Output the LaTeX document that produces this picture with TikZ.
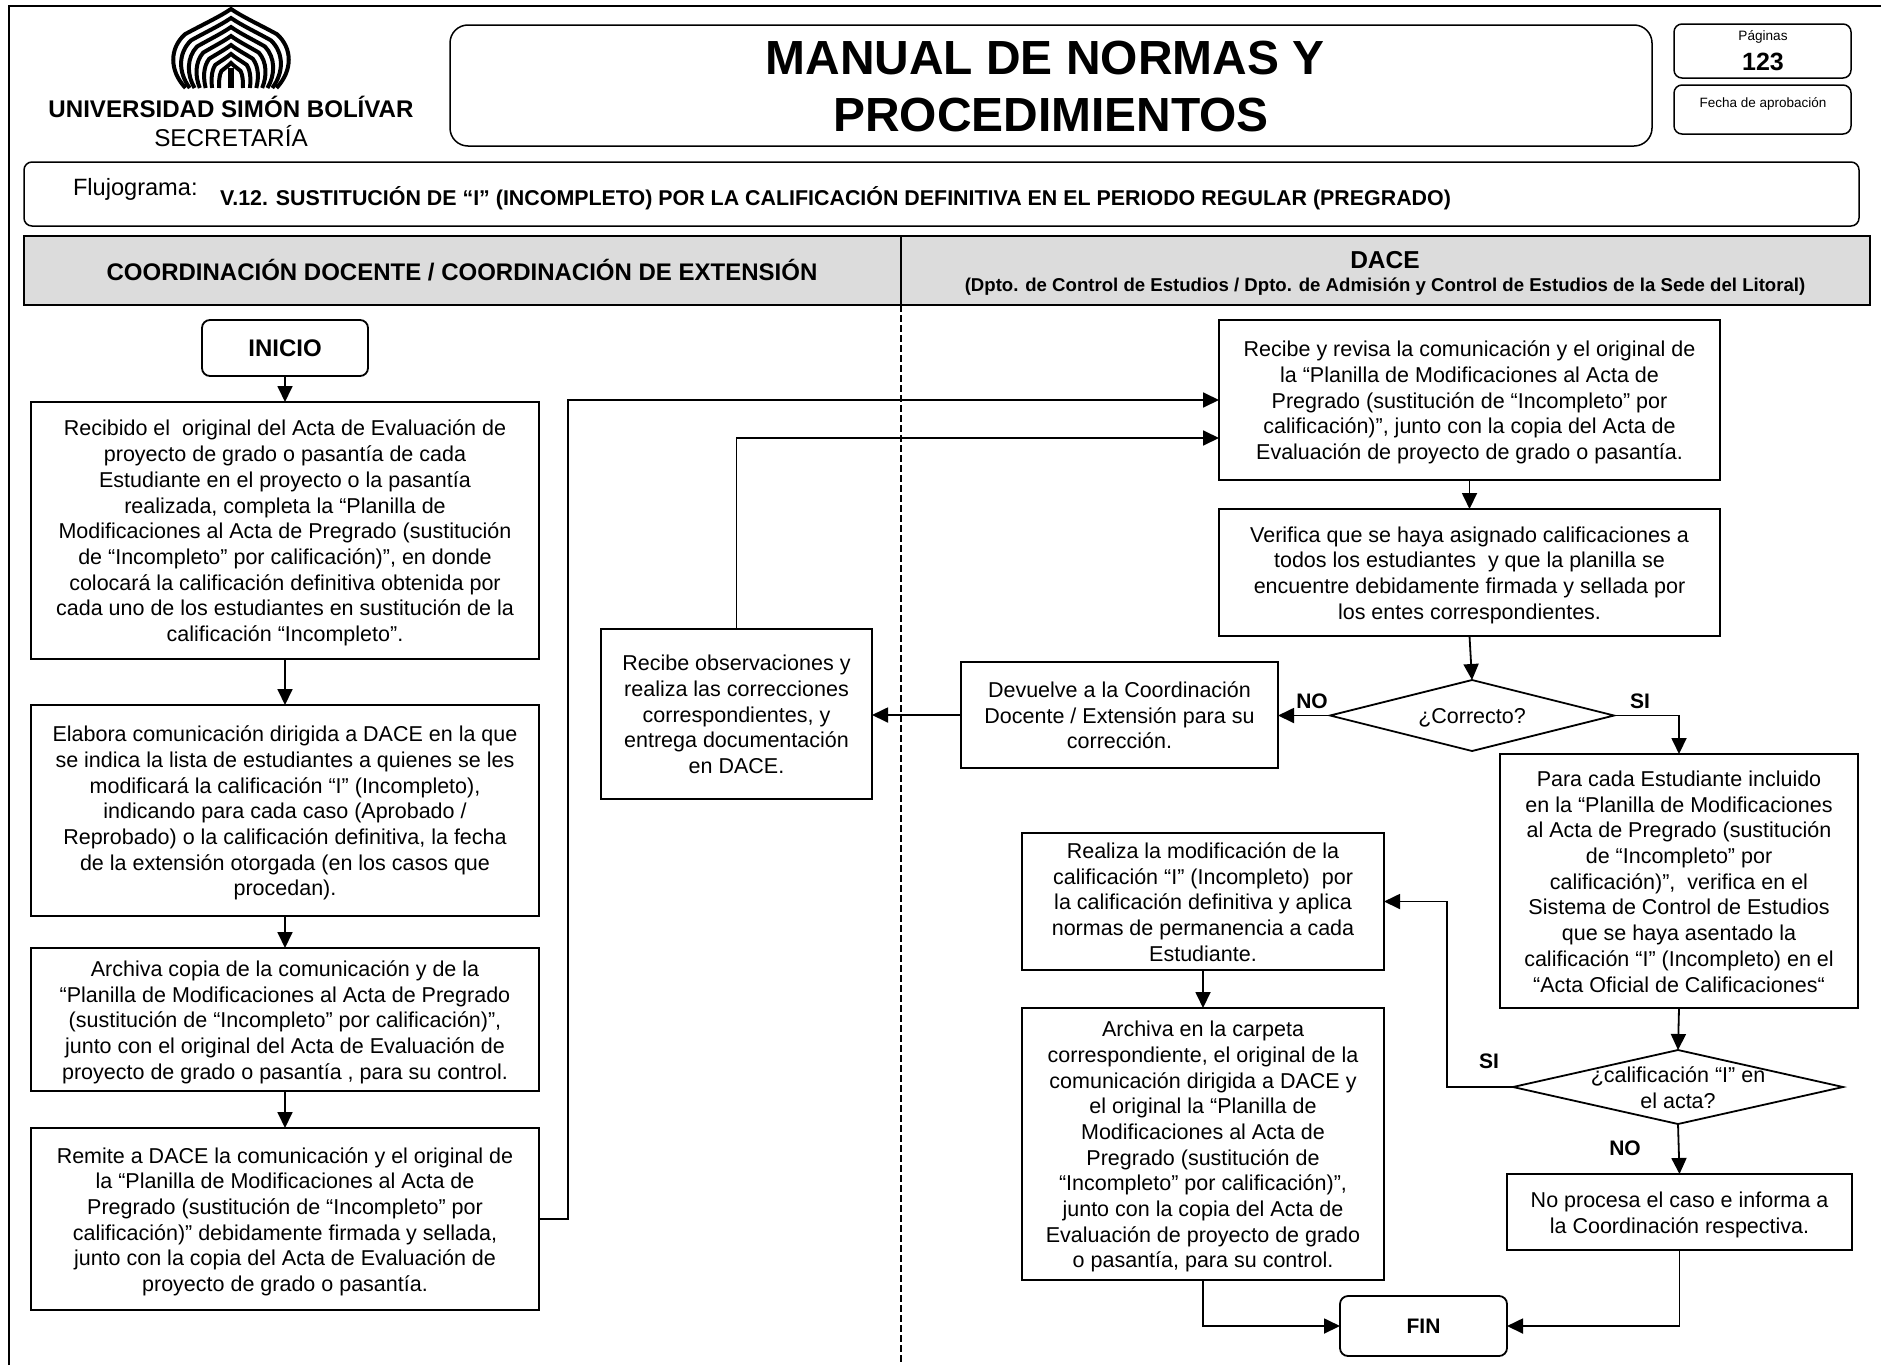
\documentclass[tikz,border=0pt]{standalone}
\usepackage{fontspec}
\setmainfont{Liberation Sans}
\usetikzlibrary{arrows.meta,shapes.geometric,calc}
\newcommand{\fs}[2]{\fontsize{#1}{#2}\selectfont}
\newcommand{\pbox}[7][proc]{\node[#1,minimum width={(#5-#3)*1pt},minimum height={(#6-#4)*1pt}] (#2) at ({(#3+#5)/2},{(#4+#6)/2}) {#7};}
\newcommand{\tbox}[6]{\pbox{#1}{#2}{#3}{#4}{#5}{\rule{0pt}{22.5pt}#6\rule[-6pt]{0pt}{6pt}}}
\tikzset{
  proc/.style={draw=black,line width=1.8pt,inner sep=0pt,outer sep=0pt,align=center,font=\fs{21.5}{25.7}},
  term/.style={proc,rounded corners=8pt,font=\bfseries\fs{24}{28}},
  frameb/.style={proc,rounded corners=8pt,line width=1.5pt},
  head/.style={proc,fill=headgray,line width=2.2pt},
  decis/.style={diamond,draw=black,line width=1.8pt,inner sep=0pt,outer sep=0pt},
  txt/.style={inner sep=0pt,outer sep=0pt,align=center},
  lab/.style={txt,font=\bfseries\fs{21}{25}},
  arr/.style={draw=black,line width=1.8pt,-{Triangle[length=16pt,width=15pt]}},
}
\definecolor{headgray}{HTML}{DCDCDC}
\begin{document}
\begin{tikzpicture}[x=1pt,y=-1pt]
\useasboundingbox (0,0) rectangle (1881,1365);
\fill[white] (0,0) rectangle (1881,1365);
% outer frame
\coordinate (fa) at (9,1365);
\coordinate (fb) at (9,6);
\coordinate (fc) at (1881,6);
\draw[line width=2.6pt] (fa) -- (fb) -- (fc);
% logo
\fill (228,68) rectangle (234,88);
\foreach \i in {0,...,6}{
  \pgfmathsetmacro{\w}{12+\i*7.6}
  \pgfmathsetmacro{\h}{25+\i*9}
  \pgfmathsetmacro{\f}{1-0.035*\i}
  \pgfmathsetmacro{\b}{1+0.012*\i}
  \draw[line width=4pt,line cap=butt,line join=miter]
    ({231-\f*\w},88) .. controls ({231-\b*\w},{88-0.22*\h}) and ({231-\b*\w},{88-0.50*\h}) .. ({231-0.80*\w},{88-0.68*\h})
    .. controls ({231-0.5*\w},{88-0.80*\h}) and ({231-0.2*\w},{88-0.90*\h}) .. (231,{88-\h})
    .. controls ({231+0.2*\w},{88-0.90*\h}) and ({231+0.5*\w},{88-0.80*\h}) .. ({231+0.80*\w},{88-0.68*\h})
    .. controls ({231+\b*\w},{88-0.50*\h}) and ({231+\b*\w},{88-0.22*\h}) .. ({231+\f*\w},88);
}
\node[txt,font=\bfseries\fs{24.1}{28}] (uni) at (231,107) {UNIVERSIDAD SIMÓN BOLÍVAR};
\node[txt,font=\fs{24.3}{28}] (sec) at (231,136) {SECRETARÍA};
% title boxes
\pbox[frameb,rounded corners=18pt]{title}{450}{25}{1652}{146}{}
\node[txt,font=\bfseries\fs{47.9}{57.6}] (titlet) at (1051,86.5) {MANUAL DE NORMAS Y\hspace*{12pt}\\PROCEDIMIENTOS};
\pbox[frameb]{pag}{1674}{24}{1851}{78}{}
\node[txt,font=\fs{13.6}{16}] (pagt) at (1763,37) {Páginas};
\node[txt,font=\bfseries\fs{25}{28}] (pagn) at (1763,62) {123};
\pbox[frameb]{fec}{1674}{85}{1851}{134}{}
\node[txt,font=\fs{13.5}{16}] (fect) at (1763,104) {Fecha de aprobación};
\pbox[frameb]{flu}{24}{162}{1859}{226}{}
\node[txt,anchor=west,font=\fs{23.6}{28}] (flut) at (73,189) {Flujograma:};
\node[txt,anchor=west,font=\bfseries\fs{21.4}{25}] (v12) at (220,198) {V.12. SUSTITUCIÓN DE “I” (INCOMPLETO) POR LA CALIFICACIÓN DEFINITIVA EN EL PERIODO REGULAR (PREGRADO)};
% header
\pbox[head]{hl}{24}{236}{901}{305}{}
\pbox[head]{hr}{901}{236}{1870}{305}{}
\node[txt,font=\bfseries\fs{24}{28}] (hlt) at (462,270) {COORDINACIÓN DOCENTE / COORDINACIÓN DE EXTENSIÓN};
\node[txt,font=\bfseries\fs{24.5}{29}] (hrt) at (1385,260.5) {DACE};
\node[txt,font=\bfseries\fs{18.6}{21}] (hrs) at (1385,286.5) {(Dpto. de Control de Estudios / Dpto. de Admisión y Control de Estudios de la Sede del Litoral)};
\coordinate (dashend) at (901,1365);
\draw[line width=1.4pt,dash pattern=on 7pt off 3pt] (hl.south east) -- (dashend);
% left column
\pbox[term]{ini}{202}{320}{368}{376}{INICIO}
\tbox{b1}{31}{402}{539}{659}{Recibido el\ \ original del Acta de Evaluación de\\proyecto de grado o pasantía de cada\\Estudiante en el proyecto o la pasantía\\realizada, completa la “Planilla de\\Modificaciones al Acta de Pregrado (sustitución\\de “Incompleto” por calificación)”, en donde\\colocará la calificación definitiva obtenida por\\cada uno de los estudiantes en sustitución de la\\calificación “Incompleto”.}
\tbox{b2}{31}{705}{539}{916}{Elabora comunicación dirigida a DACE en la que\\se indica la lista de estudiantes a quienes se les\\modificará la calificación “I” (Incompleto),\\indicando para cada caso (Aprobado /\\Reprobado) o la calificación definitiva, la fecha\\de la extensión otorgada (en los casos que\\procedan).}
\tbox{b3}{31}{948}{539}{1091}{Archiva copia de la comunicación y de la\\“Planilla de Modificaciones al Acta de Pregrado\\(sustitución de “Incompleto” por calificación)”,\\junto con el original del Acta de Evaluación de\\proyecto de grado o pasantía , para su control.}
\tbox{b4}{31}{1128}{539}{1310}{Remite a DACE la comunicación y el original de\\la “Planilla de Modificaciones al Acta de\\Pregrado (sustitución de “Incompleto” por\\calificación)” debidamente firmada y sellada,\\junto con la copia del Acta de Evaluación de\\proyecto de grado o pasantía.}
\tbox{b5}{601}{629}{872}{799}{Recibe observaciones y\\realiza las correcciones\\correspondientes, y\\entrega documentación\\en DACE.}
% right column
\tbox{rt}{1219}{320}{1720}{480}{Recibe y revisa la comunicación y el original de\\la “Planilla de Modificaciones al Acta de\\Pregrado (sustitución de “Incompleto” por\\calificación)”, junto con la copia del Acta de\\Evaluación de proyecto de grado o pasantía.}
\tbox{ve}{1219}{509}{1720}{636}{Verifica que se haya asignado calificaciones a\\todos los estudiantes\ \ y que la planilla se\\encuentre debidamente firmada y sellada por\\los entes correspondientes.}
\tbox{de}{961}{662}{1278}{768}{Devuelve a la Coordinación\\Docente / Extensión para su\\corrección.}
\node[decis,shape aspect=4,minimum width=284pt,minimum height=71pt] (d1) at (1472,715.5) {};
\node[txt,font=\fs{21.5}{25.7}] (d1t) at (1472,718) {¿Correcto?};
\tbox{pa}{1500}{754}{1858}{1008}{Para cada Estudiante incluido\\en la “Planilla de Modificaciones\\al Acta de Pregrado (sustitución\\de “Incompleto” por\\calificación)”,\ \ verifica en el\\Sistema de Control de Estudios\\que se haya asentado la\\calificación “I” (Incompleto) en el\\“Acta Oficial de Calificaciones“}
\tbox{re}{1022}{833}{1384}{970}{Realiza la modificación de la\\calificación “I” (Incompleto)\ \ por\\la calificación definitiva y aplica\\normas de permanencia a cada\\Estudiante.}
\tbox{ar}{1022}{1008}{1384}{1280}{Archiva en la carpeta\\correspondiente, el original de la\\comunicación dirigida a DACE y\\el original la “Planilla de\\Modificaciones al Acta de\\Pregrado (sustitución de\\“Incompleto” por calificación)”,\\junto con la copia del Acta de\\Evaluación de proyecto de grado\\o pasantía, para su control.}
\node[decis,shape aspect=4.46,minimum width=330pt,minimum height=74pt] (d2) at (1678,1087) {};
\node[txt,font=\fs{21.5}{25.7}] (d2t) at (1678,1088) {¿calificación “I” en\\el acta?};
\tbox{np}{1507}{1174}{1852}{1250}{No procesa el caso e informa a\\la Coordinación respectiva.}
\pbox[term,font=\bfseries\fs{21}{25}]{fin}{1340}{1296}{1507}{1356}{FIN}
% labels
\node[lab] (lno1) at (1312,701) {NO};
\node[lab] (lsi1) at (1640,701) {SI};
\node[lab] (lsi2) at (1489,1061) {SI};
\node[lab] (lno2) at (1625,1148) {NO};
% connectors
\coordinate (c1) at (568,398);
\coordinate (c2) at (1219,438);
\coordinate (c3) at (1447,900);
\draw[arr] (ini) -- (b1);
\draw[arr] (b1) -- (b2);
\draw[arr] (b2) -- (b3);
\draw[arr] (b3) -- (b4);
\draw[arr] (b4.east) -- (b4.east -| c1) |- (rt.west);
\draw[arr] (b5.north) |- (c2);
\draw[arr] (rt) -- (ve);
\draw[arr] (ve.south) -- (d1.north);
\draw[arr] (d1.west) -- (d1.west -| de.east);
\draw[arr] (de.west) -- (de.west -| b5.east);
\draw[arr] (d1.east) -| (pa.north);
\draw[arr] (pa.south) -- (d2.north);
\draw[arr] (d2.south) -- (np.north);
\draw[arr] (d2.west) -- (d2.west -| c3) |- (re.east);
\draw[arr] (re) -- (ar);
\draw[arr] (ar.south) |- (fin.west);
\draw[arr] (np.south) |- (fin.east);
\end{tikzpicture}
\end{document}
